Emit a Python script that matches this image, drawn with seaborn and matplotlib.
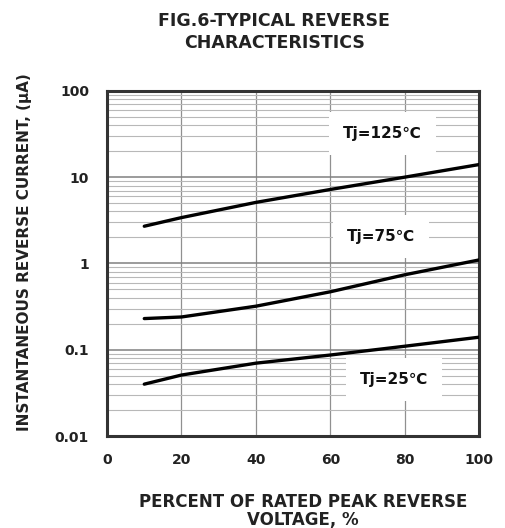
import numpy as np
import pandas as pd
import seaborn as sns
import matplotlib.pyplot as plt
from matplotlib.ticker import LogLocator, NullFormatter

# valores
percent = [10, 20, 40, 60, 80, 100]
i_125 = [2.7, 3.4, 5.1, 7.2, 10.0, 14.0]
i_75 = [0.23, 0.24, 0.32, 0.47, 0.74, 1.1]
i_25 = [0.040, 0.051, 0.070, 0.087, 0.11, 0.14]
labels = ["Tj=125℃", "Tj=75℃", "Tj=25℃"]
label_x = [74, 73.5, 77]
label_y = [32, 2.05, 0.045]

x_ticks = [0, 20, 40, 60, 80, 100]
y_ticks = [0.01, 0.1, 1, 10, 100]
y_tick_labels = ["0.01", "0.1", "1", "10", "100"]

df = pd.DataFrame({
    "pct": percent * 3,
    "cur": i_125 + i_75 + i_25,
    "serie": [labels[0]] * 6 + [labels[1]] * 6 + [labels[2]] * 6,
})

sns.set_style("white")
plt.rcParams["font.family"] = ["DejaVu Sans"]
plt.rcParams["font.weight"] = "bold"

fig = plt.figure(figsize=(5.05, 5.28), dpi=100)
ax = fig.add_axes([0.212, 0.174, 0.737, 0.654])

for s in labels:
    d = df[df["serie"] == s]
    sns.lineplot(data=d, x="pct", y="cur", ax=ax, color="black", linewidth=2.4, zorder=3)

ax.set_yscale("log")
ax.set_xlim(0, 100)
ax.set_ylim(0.01, 100)

ax.set_xticks(x_ticks)
ax.set_xticklabels([str(v) for v in x_ticks])
ax.set_yticks(y_ticks)
ax.set_yticklabels(y_tick_labels)
ax.yaxis.set_minor_locator(LogLocator(base=10, subs=np.arange(2, 10)))
ax.yaxis.set_minor_formatter(NullFormatter())

ax.grid(True, which="major", axis="y", color="#808080", linewidth=1.1)
ax.grid(True, which="major", axis="x", color="#909090", linewidth=0.9)
ax.grid(True, which="minor", axis="y", color="#b8b8b8", linewidth=0.8)
ax.tick_params(axis="both", which="both", length=0, labelsize=10, colors="#222222")
ax.tick_params(axis="y", pad=13)
ax.tick_params(axis="x", pad=12)

for sp in ax.spines.values():
    sp.set_linewidth(2.2)
    sp.set_color("#333333")

for t, lx, ly in zip(labels, label_x, label_y):
    ax.text(lx, ly, t, fontsize=11, fontweight="bold", ha="center", va="center", zorder=4,
            color="#111111", bbox=dict(facecolor="white", edgecolor="none", pad=10))

ax.set_xlabel("PERCENT OF RATED PEAK REVERSE\nVOLTAGE, %", fontsize=12, fontweight="bold",
              linespacing=1.05, color="#222222")
ax.xaxis.set_label_coords(0.527, -0.164)
ax.set_ylabel("INSTANTANEOUS REVERSE CURRENT, (μA)", fontsize=11, fontweight="bold",
              color="#222222")
ax.yaxis.set_label_coords(-0.203, 0.533)
fig.text(0.543, 0.940, "FIG.6-TYPICAL REVERSE\nCHARACTERISTICS", fontsize=12.5,
         fontweight="bold", ha="center", va="center", linespacing=1.3, color="#222222")

fig.savefig("out.png", dpi=100)
